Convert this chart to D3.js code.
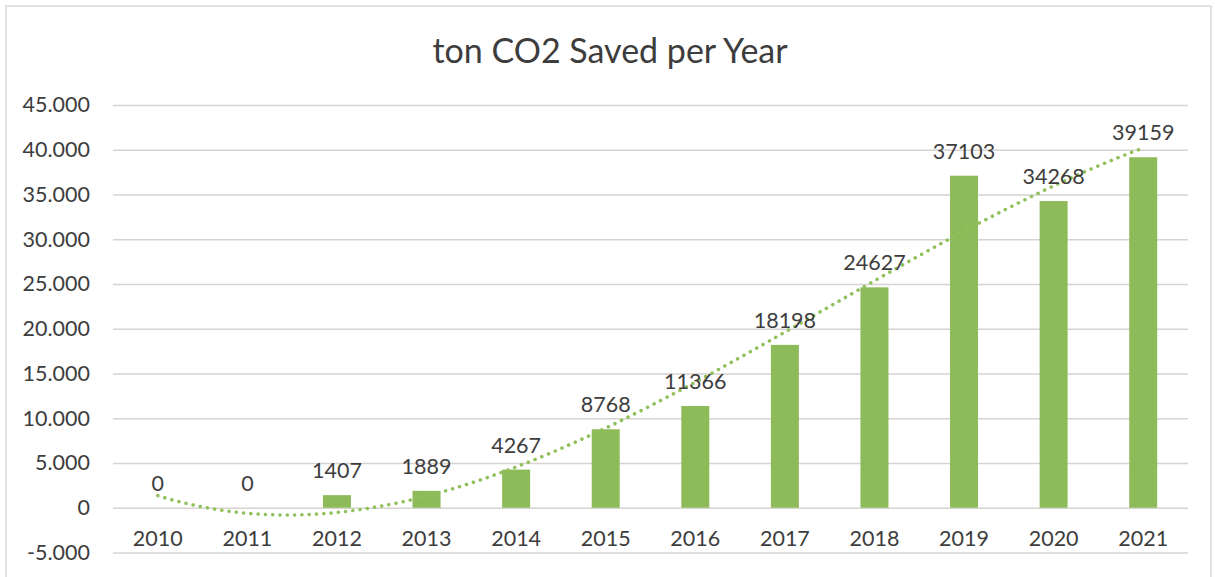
<!DOCTYPE html>
<html>
<head>
<meta charset="utf-8">
<script src="https://cdn.jsdelivr.net/npm/d3@7"></script>
<style>
    body { margin: 0; background: #fff; }
    text { font-family: Lato, "Open Sans", sans-serif; fill: #3d3d3d; }
</style>
</head>
<body>
<svg id="chart" width="1215" height="577"></svg>
<script>
/* ------------------------- DATA ------------------------- */

const title = "ton CO2 Saved per Year"
const years = ["2010", "2011", "2012", "2013", "2014", "2015", "2016", "2017", "2018", "2019", "2020", "2021"]
const saved = [0, 0, 1407, 1889, 4267, 8768, 11366, 18198, 24627, 37103, 34268, 39159]
const yTicks = [-5000, 0, 5000, 10000, 15000, 20000, 25000, 30000, 35000, 40000, 45000]

/* --------------- polynomial trendline (order 3, like Excel) --------------- */

function polyFit(xs, ys, order) {
    let n = order + 1
    let A = [], b = []
    for (let i = 0; i < n; i++) {
        A.push([])
        for (let j = 0; j < n; j++) A[i].push(d3.sum(xs, x => Math.pow(x, i + j)))
        b.push(d3.sum(xs, (x, k) => Math.pow(x, i) * ys[k]))
    }
    // gauss elimination
    for (let i = 0; i < n; i++) {
        let p = i
        for (let r = i + 1; r < n; r++) if (Math.abs(A[r][i]) > Math.abs(A[p][i])) p = r
        ;[A[i], A[p]] = [A[p], A[i]]; [b[i], b[p]] = [b[p], b[i]]
        for (let r = i + 1; r < n; r++) {
            let f = A[r][i] / A[i][i]
            for (let c = i; c < n; c++) A[r][c] -= f * A[i][c]
            b[r] -= f * b[i]
        }
    }
    let coef = new Array(n).fill(0)
    for (let i = n - 1; i >= 0; i--) {
        let s = b[i]
        for (let c = i + 1; c < n; c++) s -= A[i][c] * coef[c]
        coef[i] = s / A[i][i]
    }
    return x => coef.reduce((acc, c, i) => acc + c * Math.pow(x, i), 0)
}

/* ------------------------- DRAW ------------------------- */

const svg = d3.select("#chart")
const plot = { left: 113, right: 1188, top: 105, bottom: 552.5 }

svg.append("rect")
    .attr("x", 6).attr("y", 6)
    .attr("width", 1205).attr("height", 600)
    .attr("fill", "#fff")
    .attr("stroke", "#d9d9d9").attr("stroke-width", 1.5)

svg.append("text")
    .attr("x", 610).attr("y", 63)
    .attr("text-anchor", "middle")
    .style("font-size", "34px")
    .text(title)

const x = d3.scaleBand().domain(years).range([plot.left, plot.right]).paddingInner(0.6875).paddingOuter(0.34375)
const y = d3.scaleLinear().domain([-5000, 45000]).range([plot.bottom, plot.top])

// gridlines + y labels
const yAxis = d3.axisLeft(y).tickValues(yTicks)
    .tickSize(-(plot.right - plot.left))
    .tickPadding(23)
    .tickFormat(d => d3.format(",")(d).replace(/,/g, ".").replace("−", "-"))

const gy = svg.append("g")
    .attr("transform", `translate(${plot.left},0)`)
    .call(yAxis)
gy.select(".domain").remove()
gy.selectAll(".tick line").attr("stroke", "#d6d3d1").attr("stroke-width", 1.5)
gy.selectAll(".tick text").style("font-size", "21.5px").attr("fill", "#3d3d3d").style("font-family", "Lato")

// year labels under the zero line
const xAxis = d3.axisBottom(x).tickSize(0).tickPadding(23)
const gx = svg.append("g")
    .attr("transform", `translate(0,${y(0)})`)
    .call(xAxis)
gx.select(".domain").remove()
gx.selectAll(".tick text").style("font-size", "21.5px").attr("fill", "#3d3d3d").style("font-family", "Lato")

// bars
svg.append("g")
    .selectAll("rect")
    .data(saved)
    .enter().append("rect")
        .attr("x", (d, i) => x(years[i]))
        .attr("y", d => y(d))
        .attr("width", x.bandwidth())
        .attr("height", d => y(0) - y(d))
        .attr("fill", "#8dbb5a")

// trendline
const trend = polyFit(years.map((d, i) => i + 1), saved, 3)
const xi = d3.scaleLinear().domain([1, years.length])
    .range([x(years[0]) + x.bandwidth() / 2, x(years[years.length - 1]) + x.bandwidth() / 2])
const pts = d3.range(1, years.length + 0.001, 0.05).map(t => [xi(t), y(trend(t))])

svg.append("path")
    .attr("d", d3.line()(pts))
    .attr("fill", "none")
    .attr("stroke", "#8fc05a")
    .attr("stroke-width", 3.5)
    .attr("stroke-linecap", "round")
    .attr("stroke-dasharray", "0.1 7.2")

// value labels
svg.append("g")
    .selectAll("text")
    .data(saved)
    .enter().append("text")
        .attr("x", (d, i) => x(years[i]) + x.bandwidth() / 2)
        .attr("y", d => y(d) - 17)
        .attr("text-anchor", "middle")
        .style("font-size", "21.5px")
        .text(d => d)
</script>
</body>
</html>
